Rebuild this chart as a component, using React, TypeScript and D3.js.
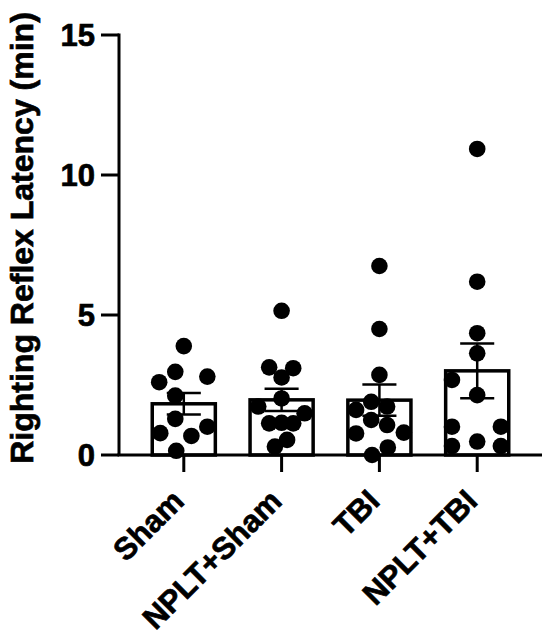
import React from "react";
import * as d3 from "d3";

// group names on the x axis
const categories = ["Sham", "NPLT+Sham", "TBI", "NPLT+TBI"];

// individual animals (min)
const shamValues = [3.89, 2.97, 2.8, 2.6, 2.12, 1.29, 1.01, 0.78, 0.68, 0.15];
const npltShamValues = [5.15, 3.13, 3.1, 2.77, 2.02, 1.73, 1.49, 1.13, 1.15, 1.13, 0.54, 0.3];
const tbiValues = [6.75, 4.5, 2.86, 1.9, 1.73, 1.61, 1.25, 1.07, 0.77, 0.8, 0.27, 0.0];
const npltTbiValues = [10.93, 6.19, 4.35, 3.63, 2.68, 2.14, 1.01, 1.01, 0.48, 0.32, 0.32];

// horizontal scatter of each dot, as a share of the bar width
const shamJitter = [0, -0.135, 0.373, -0.39, -0.135, -0.135, 0.373, -0.373, 0.12, -0.12];
const npltShamJitter = [0, -0.197, 0.184, 0, 0, -0.37, 0.365, -0.197, 0, 0.184, 0.087, -0.106];
const tbiJitter = [0, 0, 0, -0.13, 0.122, -0.37, -0.13, 0.122, -0.37, 0.387, 0.133, -0.116];
const npltTbiJitter = [0, 0, 0, 0, -0.4, 0, -0.4, 0.375, 0, -0.4, 0.375];

const yTicks = [0, 5, 10, 15];
const yLabel = "Righting Reflex Latency (min)";

const groups = [
  { name: categories[0], values: shamValues, jitter: shamJitter },
  { name: categories[1], values: npltShamValues, jitter: npltShamJitter },
  { name: categories[2], values: tbiValues, jitter: tbiJitter },
  { name: categories[3], values: npltTbiValues, jitter: npltTbiJitter },
];

const width = 550;
const height = 640;
const font = "'Liberation Sans', Arial, sans-serif";

const App: React.FC = () => {
  const x = d3
    .scaleBand<string>()
    .domain(categories)
    .range([119, 542])
    .paddingInner(0.355)
    .paddingOuter(0.34);

  const y = d3.scaleLinear().domain([0, 15]).range([455, 35]);
  const bw = x.bandwidth();

  const stats = groups.map((g) => {
    const mean = d3.mean(g.values) ?? 0;
    const sem = (d3.deviation(g.values) ?? 0) / Math.sqrt(g.values.length);
    return { ...g, mean, sem };
  });

  return (
    <svg
      width={width}
      height={height}
      style={{ position: "absolute", left: 0, top: 0, background: "#fff" }}
      fontFamily={font}
      fontWeight="bold"
    >
      {/* bars */}
      {stats.map((g) => (
        <rect
          key={"bar" + g.name}
          x={x(g.name)!}
          y={y(g.mean)}
          width={bw}
          height={y(0) - y(g.mean)}
          fill="#fff"
          stroke="#000"
          strokeWidth={3.5}
        />
      ))}

      {/* mean +/- SEM */}
      {stats.map((g) => {
        const cx = x(g.name)! + bw / 2;
        const cap = bw * 0.27;
        return (
          <g key={"err" + g.name} stroke="#000" strokeWidth={2.5}>
            <line x1={cx} x2={cx} y1={y(g.mean - g.sem)} y2={y(g.mean + g.sem)} />
            <line x1={cx - cap} x2={cx + cap} y1={y(g.mean + g.sem)} y2={y(g.mean + g.sem)} />
            <line x1={cx - cap} x2={cx + cap} y1={y(g.mean - g.sem)} y2={y(g.mean - g.sem)} />
          </g>
        );
      })}

      {/* y axis */}
      <g stroke="#000" strokeWidth={3}>
        <line x1={119} x2={119} y1={y(15) - 1.5} y2={y(0)} />
        {yTicks.map((t) => (
          <line key={"yt" + t} x1={101} x2={119} y1={y(t)} y2={y(t)} />
        ))}
      </g>
      <g stroke="#000" strokeWidth={0.7}>
        {yTicks.map((t) => (
          <text
            key={"yl" + t}
            x={95}
            y={y(t)}
            textAnchor="end"
            dominantBaseline="central"
            fontSize={31}
          >
            {t}
          </text>
        ))}
        <text
          transform={`translate(33, ${(y(0) + y(15)) / 2 - 7}) rotate(-90)`}
          textAnchor="middle"
          fontSize={32}
        >
          {yLabel}
        </text>
      </g>

      {/* x axis */}
      <g stroke="#000" strokeWidth={3}>
        <line x1={117.5} x2={542} y1={y(0)} y2={y(0)} />
        {categories.map((c) => (
          <line
            key={"xt" + c}
            x1={x(c)! + bw / 2}
            x2={x(c)! + bw / 2}
            y1={y(0)}
            y2={y(0) + 17}
          />
        ))}
      </g>
      <g stroke="#000" strokeWidth={0.7}>
        {categories.map((c) => (
          <text
            key={"xl" + c}
            transform={`translate(${x(c)! + bw / 2 + 2}, ${y(0) + 48}) rotate(-45)`}
            textAnchor="end"
            fontSize={31}
          >
            {c}
          </text>
        ))}
      </g>

      {/* individual points */}
      {stats.map((g) =>
        g.values.map((v, i) => (
          <circle
            key={g.name + i}
            cx={x(g.name)! + bw / 2 + g.jitter[i] * bw}
            cy={y(v)}
            r={8.3}
            fill="#000"
          />
        ))
      )}
    </svg>
  );
};

export default App;
